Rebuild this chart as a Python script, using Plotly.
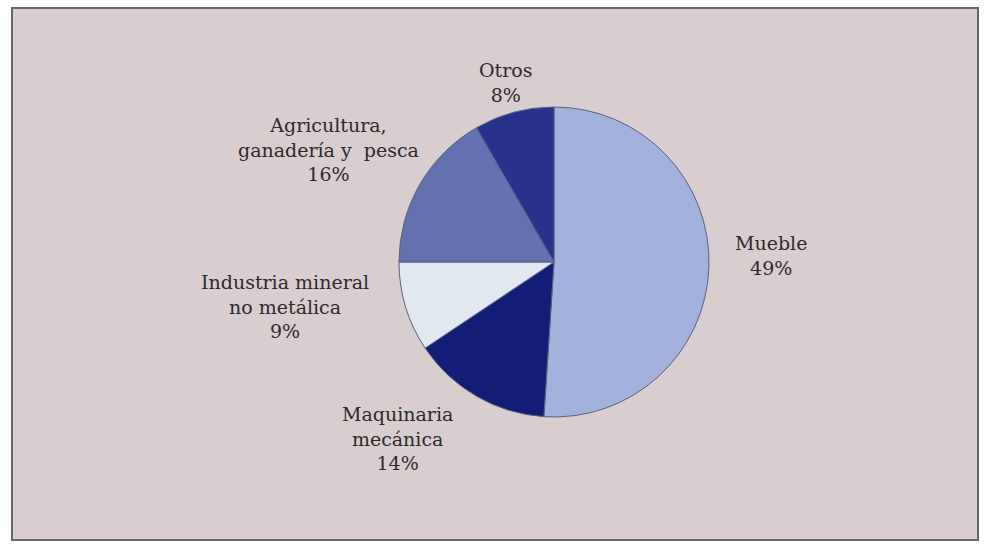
import plotly.graph_objects as go

labels = ["Mueble", "Maquinaria<br>mecánica", "Industria mineral<br>no metálica",
          "Agricultura,<br>ganadería y  pesca", "Otros"]
values = [49, 14, 9, 16, 8]
colors = ["#a3b2da", "#121d78", "#e2e8ef", "#6471b0", "#26328c"]

# label placement (pixel centres on the page) — layout only
label_px = [(771, 255), (397, 438), (285, 306), (328, 149), (505, 82)]

W, H = 986, 544
cx, cy, r = 554, 262, 155

serif = "DejaVu Serif"
txtcolor = "#2e2a2c"

fig = go.Figure(go.Pie(
    labels=labels,
    values=values,
    sort=False,
    direction="clockwise",
    rotation=0,
    marker=dict(colors=colors, line=dict(color="#5a6180", width=1)),
    textinfo="none",
    showlegend=False,
    hoverinfo="label+value",
    domain=dict(x=[(cx - r) / W, (cx + r) / W], y=[(H - cy - r) / H, (H - cy + r) / H]),
    automargin=False,
))

annotations = []
for lab, val, (px, py) in zip(labels, values, label_px):
    annotations.append(dict(
        text=f"{lab}<br>{val}%", x=px / W, y=1 - py / H, xref="paper", yref="paper",
        xanchor="center", yanchor="middle", align="center", showarrow=False,
        font=dict(family=serif, size=19, color=txtcolor)))

fig.update_layout(
    width=W, height=H,
    margin=dict(l=0, r=0, t=0, b=0),
    paper_bgcolor="white",
    font=dict(family=serif),
    annotations=annotations,
    shapes=[dict(type="rect", xref="paper", yref="paper",
                 x0=12 / W, x1=978 / W, y0=1 - 540 / H, y1=1 - 8 / H,
                 fillcolor="#d8cdcf", line=dict(color="#6b6668", width=2), layer="below")],
)

fig.write_html("out.html")
